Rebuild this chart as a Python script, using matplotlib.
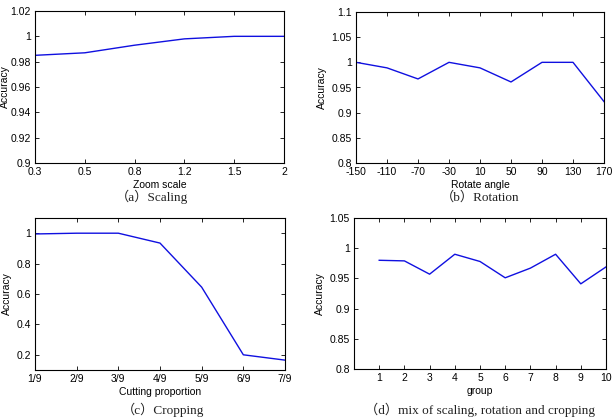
import matplotlib.pyplot as plt

plt.rcParams['font.family'] = ['Liberation Sans', 'DejaVu Sans']
plt.rcParams['axes.unicode_minus'] = False

# (a) scaling
scale_labels = ['0.3', '0.5', '0.8', '1.2', '1.5', '2']
scale_acc = [0.985, 0.987, 0.993, 0.998, 1.0, 1.0]

# (b) rotation
rot_angles = [-150, -110, -70, -30, 10, 50, 90, 130, 170]
rot_acc = [1.0, 0.989, 0.967, 1.0, 0.989, 0.961, 1.0, 1.0, 0.922]

# (c) cropping
crop_labels = ['1/9', '2/9', '3/9', '4/9', '5/9', '6/9', '7/9']
crop_acc = [0.995, 1.0, 1.0, 0.935, 0.645, 0.2, 0.165]

# (d) mix
groups = [1, 2, 3, 4, 5, 6, 7, 8, 9, 10]
mix_acc = [0.98, 0.979, 0.957, 0.99, 0.978, 0.951, 0.967, 0.99, 0.941, 0.969]

W, H = 614, 418
fig = plt.figure(figsize=(W / 100, H / 100), dpi=100)

cap_font = ['Liberation Serif', 'Noto Sans CJK SC']
line_kw = dict(color='#1010e0', lw=1.0)
fs = 7.5


def make_ax(x0, y0, x1, y1):
    ax = fig.add_axes([x0 / W, 1 - y1 / H, (x1 - x0) / W, (y1 - y0) / H])
    ax.tick_params(direction='in', top=True, right=True, labelsize=fs,
                   length=3, width=0.6, pad=3)
    for s in ax.spines.values():
        s.set_linewidth(0.8)
    return ax


def caption(x, y, text):
    fig.text(x / W, 1 - y / H, text, ha='center', va='center',
             family=cap_font, fontsize=9.5, color='#222222')


# (a)
ax = make_ax(35, 11, 284, 163)
ax.plot(range(len(scale_acc)), scale_acc, **line_kw)
ax.set_xlim(0, len(scale_acc) - 1)
ax.set_xticks(range(len(scale_labels)))
ax.set_xticklabels(scale_labels)
ax.set_ylim(0.9, 1.02)
ax.set_yticks([0.9, 0.92, 0.94, 0.96, 0.98, 1.0, 1.02])
ax.set_yticklabels(['0.9', '0.92', '0.94', '0.96', '0.98', '1', '1.02'])
ax.set_xlabel('Zoom scale', fontsize=fs, labelpad=2)
ax.set_ylabel('Accuracy', fontsize=fs, labelpad=0)
caption(152, 197, '（a）Scaling')

# (b)
ax = make_ax(356, 12, 604, 163)
ax.plot(rot_angles, rot_acc, **line_kw)
ax.set_xlim(-150, 170)
ax.set_xticks(rot_angles)
ax.set_ylim(0.8, 1.1)
ax.set_yticks([0.8, 0.85, 0.9, 0.95, 1.0, 1.05, 1.1])
ax.set_yticklabels(['0.8', '0.85', '0.9', '0.95', '1', '1.05', '1.1'])
ax.set_xlabel('Rotate angle', fontsize=fs, labelpad=2)
ax.set_ylabel('Accuracy', fontsize=fs, labelpad=3)
caption(480, 197, '（b）Rotation')

# (c)
ax = make_ax(35, 218, 285, 370)
ax.plot(range(len(crop_acc)), crop_acc, **line_kw)
ax.set_xlim(0, len(crop_acc) - 1)
ax.set_xticks(range(len(crop_labels)))
ax.set_xticklabels(crop_labels)
ax.set_ylim(0.1, 1.1)
ax.set_yticks([0.2, 0.4, 0.6, 0.8, 1.0])
ax.set_yticklabels(['0.2', '0.4', '0.6', '0.8', '1'])
ax.set_xlabel('Cutting proportion', fontsize=fs, labelpad=2)
ax.set_ylabel('Accuracy', fontsize=fs, labelpad=3)
caption(163, 410, '（c）Cropping')

# (d)
ax = make_ax(354, 218, 606, 369)
ax.plot(groups, mix_acc, **line_kw)
ax.set_xlim(0, 10)
ax.set_xticks(groups)
ax.set_ylim(0.8, 1.05)
ax.set_yticks([0.8, 0.85, 0.9, 0.95, 1.0, 1.05])
ax.set_yticklabels(['0.8', '0.85', '0.9', '0.95', '1', '1.05'])
ax.set_xlabel('group', fontsize=fs, labelpad=2)
ax.set_ylabel('Accuracy', fontsize=fs, labelpad=3)
caption(480, 410, '（d）mix of scaling, rotation and cropping')

fig.savefig('out.png', dpi=100)
